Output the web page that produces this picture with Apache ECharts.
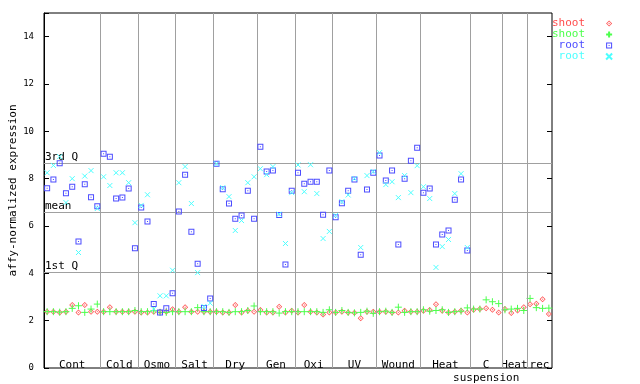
<!DOCTYPE html>
<html><head><meta charset="utf-8">
<script src="https://cdn.jsdelivr.net/npm/echarts@6/dist/echarts.min.js"></script>
<style>html,body{margin:0;padding:0;background:#fff}#c{width:640px;height:384px}</style>
</head><body><div id="c"></div>
<script>
// ---- data ----
const groupNames = ['Cont','Cold','Osmo','Salt','Dry','Gen','Oxi','UV','Wound','Heat','C\nsuspension','Heat','rec'];
const groupSizes = [9,6,6,6,7,6,6,7,7,8,5,4,4];
const yTickLabels = [0,2,4,6,8,10,12,14];
const refNames = ['3rd Q','mean','1st Q'];
const refValues = [8.66,6.59,4.06];
const seriesNames = ['shoot','shoot ','root','root '];
const legendLabels = ['shoot','shoot','root','root'];

const shootA = [2.38,2.38,2.35,2.38,2.66,2.35,2.66,2.38,2.38,
  2.38,2.57,2.38,2.38,2.38,2.38,
  2.35,2.35,2.38,2.38,2.38,2.48,
  2.38,2.57,2.38,2.38,2.38,2.38,
  2.38,2.35,2.35,2.66,2.35,2.42,2.38,
  2.45,2.35,2.35,2.59,2.35,2.42,
  2.35,2.66,2.38,2.35,2.26,2.35,
  2.35,2.38,2.35,2.33,2.10,2.38,2.38,
  2.38,2.38,2.35,2.35,2.42,2.38,2.38,
  2.42,2.45,2.69,2.42,2.35,2.38,2.42,2.35,
  2.46,2.49,2.52,2.46,2.35,
  2.49,2.32,2.43,2.57,
  2.69,2.72,2.91,2.28];
const shootB = [2.38,2.38,2.36,2.38,2.52,2.63,2.35,2.49,2.70,
  2.38,2.38,2.38,2.38,2.38,2.43,
  2.38,2.38,2.42,2.35,2.35,2.38,
  2.38,2.38,2.38,2.55,2.38,2.38,
  2.38,2.38,2.35,2.38,2.38,2.43,2.62,
  2.38,2.38,2.38,2.32,2.38,2.38,
  2.38,2.38,2.38,2.38,2.35,2.46,
  2.35,2.43,2.35,2.33,2.35,2.40,2.31,
  2.38,2.40,2.35,2.57,2.35,2.38,2.38,
  2.46,2.40,2.43,2.46,2.35,2.38,2.40,2.54,
  2.49,2.49,2.88,2.80,2.72,
  2.46,2.49,2.52,2.43,
  2.94,2.55,2.52,2.53];
const rootA = [7.59,7.97,8.65,7.38,7.66,5.34,7.76,7.21,6.83,
  9.05,8.93,7.16,7.20,7.58,5.06,
  6.78,6.19,2.70,2.35,2.52,3.16,
  6.61,8.17,5.76,4.41,2.53,2.94,
  8.63,7.55,6.95,6.31,6.44,7.49,6.31,
  9.35,8.30,8.34,6.47,4.37,7.49,
  8.25,7.79,7.87,7.87,6.48,8.34,
  6.37,6.96,7.49,7.97,4.79,7.54,8.25,
  8.98,7.92,8.34,5.22,8.00,8.76,9.31,
  7.41,7.58,5.22,5.64,5.81,7.11,7.96,4.96,
  null,null,null,null,null,
  null,null,null,null,
  null,null,null,null];
const rootB = [8.25,8.56,8.93,6.99,8.00,4.88,8.11,8.34,6.74,
  8.08,7.71,8.25,8.25,7.83,6.14,
  6.87,7.32,2.49,3.05,3.05,4.13,
  7.83,8.51,6.95,4.03,2.60,2.74,
  8.63,7.62,7.24,5.81,6.23,7.83,8.08,
  8.42,8.17,8.51,6.50,5.26,7.41,
  8.58,7.45,8.59,7.37,5.47,5.77,
  6.45,7.03,7.31,8.00,5.09,8.13,8.30,
  9.10,7.75,7.87,7.20,8.13,7.41,8.55,
  7.66,7.16,4.25,5.13,5.43,7.37,8.21,5.09,
  null,null,null,null,null,
  null,null,null,null,
  null,null,null,null];

// ---- build ----
const FONT = 'DejaVu Sans Mono';
const total = groupSizes.reduce((a,b)=>a+b,0);
const bounds = [], centers = [], labelMap = {};
let acc = 0;
groupSizes.forEach((s,i)=>{
  const c = acc + s/2; centers.push(c); labelMap[c] = groupNames[i];
  acc += s; if (i < groupSizes.length-1) bounds.push(acc);
});
const mk = arr => arr.map((v,i)=>[i+0.5, v]).filter(d=>d[1]!=null);
const colors = ['#ff4c4c','#4cff4c','#4c4cff','#4cffff'];
const symbols = [
  'path://M3,0L6,3L3,6L0,3Z M3,1L1,3L3,5L5,3Z M3,2.3L3.7,3L3,3.7L2.3,3Z',
  'path://M0,3.5L7,3.5M3.5,0L3.5,7',
  'path://M0,0L6,0L6,6L0,6Z M1,1L1,5L5,5L5,1Z M2.5,2.5L3.5,2.5L3.5,3.5L2.5,3.5Z',
  'path://M0,0L5,5M5,0L0,5'
];
const sizes = [6,7,6,5];
const dataArr = [shootA, shootB, rootA, rootB];
const stroked = [false,true,false,true];

const series = dataArr.map((arr,i)=>({
  name: seriesNames[i], type:'scatter', z: 3+i,
  symbol: symbols[i], symbolSize: sizes[i],
  itemStyle: stroked[i] ? {color: colors[i], borderColor: colors[i], borderWidth: 1, opacity:1}
                        : {color: colors[i], borderWidth: 0, opacity:1},
  data: mk(arr), animation:false
}));
series.unshift({
  name:'ref', type:'scatter', data:[], z:1, silent:true,
  markLine:{
    silent:true, symbol:'none', animation:false,
    lineStyle:{color:'#a0a0a0', width:1, type:'solid'},
    label:{show:false},
    data: bounds.map(b=>({xAxis:b})).concat(refValues.map((v,i)=>({
      yAxis:v,
      label:{show:true, position:'insideStartTop', formatter: refNames[i], distance:[1,0],
             color:'#000', fontFamily:FONT, fontSize:11, padding:0}
    })))
  }
});

const chart = echarts.init(document.getElementById('c'), null, {renderer:'canvas'});
chart.setOption({
  animation:false,
  backgroundColor:'#fff',
  grid:{left:44, top:13, width:508, height:355, show:true, borderColor:'#000', borderWidth:1,
        backgroundColor:'transparent', containLabel:false, outerBoundsMode:'none'},
  legend:{
    orient:'vertical', left:552, top:18, padding:0, itemGap:0,
    itemWidth:38, itemHeight:6, align:'right', selectedMode:false,
    data: seriesNames.map((n,i)=>({name:n, textStyle:{color:colors[i]}})),
    formatter: n => legendLabels[seriesNames.indexOf(n)],
    textStyle:{fontFamily:FONT, fontSize:11, lineHeight:11}
  },
  xAxis:{
    type:'value', min:0, max:total,
    axisLine:{show:false}, axisTick:{show:false}, splitLine:{show:false},
    axisLabel:{customValues:centers, formatter: v => labelMap[v] || '', margin:-9,
      fontFamily:FONT, fontSize:11, lineHeight:13, color:'#000', hideOverlap:false}
  },
  yAxis:[{
    type:'value', min:0, max:15, interval:2, position:'left',
    name:'affy-normalized expression', nameLocation:'middle', nameGap:25, nameRotate:90,
    nameMoveOverlap:false,
    nameTextStyle:{fontFamily:FONT, fontSize:11, color:'#000'},
    axisLine:{show:true, lineStyle:{color:'#000'}},
    axisTick:{show:true, inside:true, length:5, lineStyle:{color:'#000'}},
    axisLabel:{customValues:yTickLabels, margin:10, fontFamily:FONT, fontSize:9, color:'#000'},
    splitLine:{show:false}
  },{
    type:'value', min:0, max:15, interval:2, position:'right',
    axisLine:{show:false},
    axisTick:{show:true, inside:true, length:5, lineStyle:{color:'#000'}, customValues:yTickLabels},
    axisLabel:{show:false}, splitLine:{show:false}
  }],
  series: series
});
</script></body></html>
